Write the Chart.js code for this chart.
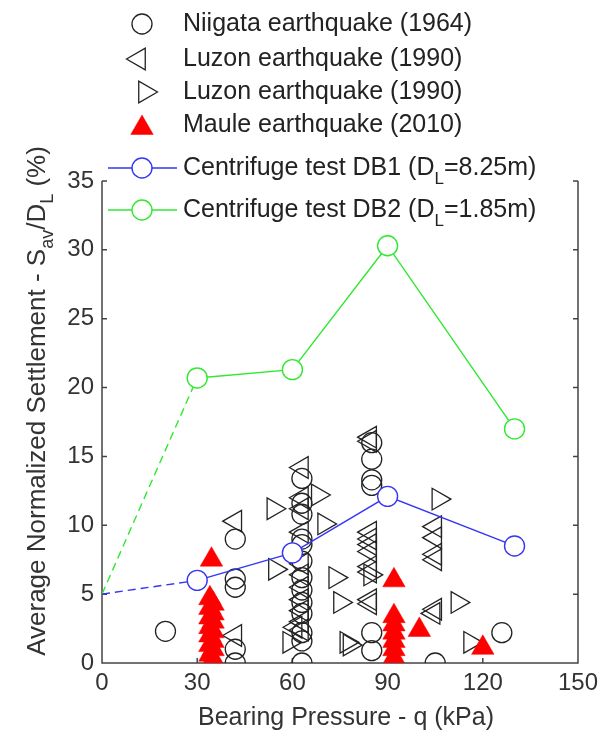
<!DOCTYPE html>
<html><head><meta charset="utf-8">
<script src="https://cdn.jsdelivr.net/npm/chart.js@4.4.1/dist/chart.umd.min.js"></script>
<style>html,body{margin:0;padding:0;background:#fff;}canvas{display:block;}</style>
</head><body>
<canvas id="c" width="613" height="733"></canvas>
<script>
const xTicks = [0, 30, 60, 90, 120, 150];
const yTicks = [0, 5, 10, 15, 20, 25, 30, 35];

const niigataX = [20, 42, 42, 42, 42, 42, 63, 63, 63, 63, 63, 63, 63, 63, 63, 63, 63, 63, 63, 85, 85, 85, 85, 85, 85, 105, 126];
const niigataY = [2.3, 9.0, 6.1, 5.5, 1.0, 0.0, 13.4, 11.6, 10.8, 9.0, 8.6, 7.4, 6.2, 5.3, 4.4, 3.6, 2.2, 1.6, 0.0, 16.0, 14.8, 13.3, 12.9, 2.2, 0.9, 0.0, 2.2];

const luzonLX = [42, 42, 63, 63, 63, 63, 63, 63, 63, 63, 63, 63, 63, 61, 84.5, 84.5, 84.5, 84.5, 84.5, 84.5, 84.5, 84.5, 84.5, 84.5, 105, 105, 105, 105, 105, 104.5];
const luzonLY = [10.3, 2.0, 14.2, 12.0, 11.2, 9.5, 7.2, 6.4, 5.5, 4.6, 3.8, 3.0, 2.4, 2.6, 16.4, 16.1, 9.5, 9.0, 8.6, 8.1, 7.0, 6.6, 4.6, 4.3, 9.9, 9.1, 7.9, 7.5, 3.9, 3.6];

const luzonRX = [54, 68, 70, 54.5, 73.5, 75, 59, 77, 78, 84.5, 106, 112, 116];
const luzonRY = [11.2, 12.2, 10.1, 6.8, 6.2, 4.4, 1.5, 1.5, 1.3, 6.4, 11.9, 4.4, 1.5];

const mauleX = [34.5, 34, 35, 34, 35, 34, 35, 34, 35, 34, 35, 34, 35, 34, 35, 92, 92, 92, 92, 92, 92, 92, 100, 120];
const mauleY = [7.5, 4.7, 4.3, 4.0, 3.6, 3.3, 3.0, 2.6, 2.3, 2.0, 1.6, 1.3, 1.0, 0.6, 0.3, 6.0, 3.4, 2.8, 2.2, 1.6, 1.0, 0.4, 2.4, 1.1];

const db1X = [0, 30, 60, 90, 130];
const db1Y = [5, 6, 8, 12.1, 8.5];
const db2X = [0, 30, 60, 90, 130];
const db2Y = [5, 20.7, 21.3, 30.3, 17.0];

const zip = (xs, ys) => xs.map((x, i) => ({x: x, y: ys[i]}));

const FONT = '"Liberation Sans", Arial, sans-serif';
const BLUE = '#3535f5';
const GREEN = '#30e830';
const RED = '#ff0000';
const INK = '#222';
const TXT = '#333';

Chart.defaults.font.family = FONT;

const lineDs = (label, xs, ys, color) => ({
  label: label, data: zip(xs, ys), showLine: true,
  borderColor: color, borderWidth: 1.4, backgroundColor: '#fff',
  pointBackgroundColor: '#fff', pointBorderColor: color, pointBorderWidth: 1.4,
  pointRadius: ctx => ctx.dataIndex === 0 ? 0 : 10,
  pointStyle: 'circle',
  segment: { borderDash: ctx => ctx.p0DataIndex === 0 ? [8, 5] : undefined }
});

const framePlugin = {
  id: 'frame',
  beforeDatasetsDraw(chart) {
    const {ctx, chartArea: a, scales: {x, y}} = chart;
    ctx.save();
    ctx.strokeStyle = '#444'; ctx.lineWidth = 1.5;
    ctx.beginPath();
    ctx.moveTo(a.left, a.top); ctx.lineTo(a.left, a.bottom); ctx.lineTo(a.right, a.bottom); ctx.lineTo(a.right, a.top);
    yTicks.forEach(v => { const p = y.getPixelForValue(v); ctx.moveTo(a.left, p); ctx.lineTo(a.left + 5, p); ctx.moveTo(a.right, p); ctx.lineTo(a.right - 5, p); });
    xTicks.forEach(v => { const p = x.getPixelForValue(v); ctx.moveTo(p, a.bottom); ctx.lineTo(p, a.bottom - 5); });
    ctx.stroke();
    ctx.restore();
  }
};

function richWidth(ctx, parts, main, sub) {
  let w = 0;
  parts.forEach(p => { ctx.font = p.sub ? sub : main; w += ctx.measureText(p.t).width; });
  return w;
}
function drawRich(ctx, parts, x, y, main, sub, subOff) {
  let cx = x;
  parts.forEach(p => {
    ctx.font = p.sub ? sub : main;
    ctx.fillText(p.t, cx, p.sub ? y + subOff : y);
    cx += ctx.measureText(p.t).width;
  });
}

const textPlugin = {
  id: 'texts',
  afterDraw(chart) {
    const ctx = chart.ctx;
    const H = Chart.helpers;
    ctx.save();
    ctx.fillStyle = TXT;
    ctx.textBaseline = 'middle';
    ctx.textAlign = 'left';
    // y axis title
    const yParts = [{t: 'Average Normalized Settlement - S'}, {t: 'av', sub: true}, {t: '/D'}, {t: 'L', sub: true}, {t: ' (%)'}];
    const mainF = '26px ' + FONT, subF = '18px ' + FONT;
    const w = richWidth(ctx, yParts, mainF, subF);
    ctx.save();
    ctx.translate(38, 401);
    ctx.rotate(-Math.PI / 2);
    drawRich(ctx, yParts, -w / 2, 0, mainF, subF, 10);
    ctx.restore();

    // x axis title
    ctx.font = '25px ' + FONT;
    ctx.textAlign = 'center';
    ctx.fillText('Bearing Pressure - q (kPa)', 346, 718);
    ctx.textAlign = 'left';

    // legend
    const lx = 142, tx = 183;
    const lf = '25px ' + FONT, lsf = '17px ' + FONT;
    const items = [
      {y: 24, style: 'circle', rot: 0, parts: [{t: 'Niigata earthquake (1964)'}]},
      {y: 59, style: 'triangle', rot: 270, parts: [{t: 'Luzon earthquake (1990)'}]},
      {y: 92, style: 'triangle', rot: 90, parts: [{t: 'Luzon earthquake (1990)'}]},
      {y: 125, style: 'triangle', rot: 0, fill: RED, parts: [{t: 'Maule earthquake (2010)'}]},
      {y: 168, style: 'circle', line: BLUE, parts: [{t: 'Centrifuge test DB1 (D'}, {t: 'L', sub: true}, {t: '=8.25m)'}]},
      {y: 210, style: 'circle', line: GREEN, parts: [{t: 'Centrifuge test DB2 (D'}, {t: 'L', sub: true}, {t: '=1.85m)'}]}
    ];
    items.forEach(it => {
      if (it.line) {
        ctx.strokeStyle = it.line; ctx.lineWidth = 1.4;
        ctx.beginPath(); ctx.moveTo(108, it.y); ctx.lineTo(177, it.y); ctx.stroke();
        ctx.fillStyle = '#fff';
        H.drawPoint(ctx, {pointStyle: 'circle', radius: 10, borderWidth: 1.4, rotation: 0}, lx, it.y);
      } else if (it.fill) {
        ctx.fillStyle = it.fill; ctx.strokeStyle = it.fill; ctx.lineWidth = 0.5;
        H.drawPoint(ctx, {pointStyle: 'triangle', radius: 13, borderWidth: 0.5, rotation: 0}, lx, it.y + 3);
      } else {
        ctx.fillStyle = 'rgba(0,0,0,0)';
        ctx.strokeStyle = INK; ctx.lineWidth = 1.3;
        const isC = it.style === 'circle';
        H.drawPoint(ctx, {pointStyle: it.style, radius: isC ? 10 : 12.5, borderWidth: 1.3, rotation: it.rot}, isC ? lx : lx + (it.rot === 90 ? 3 : -3), it.y);
      }
      ctx.fillStyle = INK;
      drawRich(ctx, it.parts, tx, it.y, lf, lsf, 11);
    });
    ctx.restore();
  }
};

new Chart(document.getElementById('c'), {
  type: 'scatter',
  data: {
    datasets: [
      lineDs('Centrifuge test DB1', db1X, db1Y, BLUE),
      lineDs('Centrifuge test DB2', db2X, db2Y, GREEN),
      {label: 'Maule earthquake (2010)', data: zip(mauleX, mauleY), pointStyle: 'triangle', pointRadius: 13,
       pointBackgroundColor: RED, pointBorderColor: RED, pointBorderWidth: 0.5},
      {label: 'Luzon earthquake (1990) R', data: zip(luzonRX, luzonRY), pointStyle: 'triangle', rotation: 90, pointRadius: 12.5,
       pointBackgroundColor: 'rgba(0,0,0,0)', pointBorderColor: INK, pointBorderWidth: 1.3},
      {label: 'Luzon earthquake (1990) L', data: zip(luzonLX, luzonLY), pointStyle: 'triangle', rotation: 270, pointRadius: 12.5,
       pointBackgroundColor: 'rgba(0,0,0,0)', pointBorderColor: INK, pointBorderWidth: 1.3},
      {label: 'Niigata earthquake (1964)', data: zip(niigataX, niigataY), pointStyle: 'circle', pointRadius: 10,
       pointBackgroundColor: 'rgba(0,0,0,0)', pointBorderColor: INK, pointBorderWidth: 1.3}
    ]
  },
  options: {
    responsive: false, animation: false, devicePixelRatio: 1,
    layout: {padding: {top: 181, right: 35, left: 0, bottom: 0}},
    plugins: {legend: {display: false}, tooltip: {enabled: false}},
    scales: {
      x: {
        type: 'linear', min: 0, max: 150,
        afterBuildTicks: s => { s.ticks = xTicks.map(v => ({value: v})); },
        afterFit: s => { s.height = 70; },
        grid: {display: false, drawTicks: false}, border: {display: false},
        ticks: {font: {size: 24}, color: TXT, padding: 6, maxRotation: 0, autoSkip: false},
        title: {display: false}
      },
      y: {
        type: 'linear', min: 0, max: 35,
        afterBuildTicks: s => { s.ticks = yTicks.map(v => ({value: v})); },
        afterFit: s => { s.width = 102; },
        grid: {display: false, drawTicks: false}, border: {display: false},
        ticks: {font: {size: 24}, color: TXT, padding: 8, autoSkip: false}
      }
    }
  },
  plugins: [framePlugin, textPlugin]
});
</script>
</body></html>
